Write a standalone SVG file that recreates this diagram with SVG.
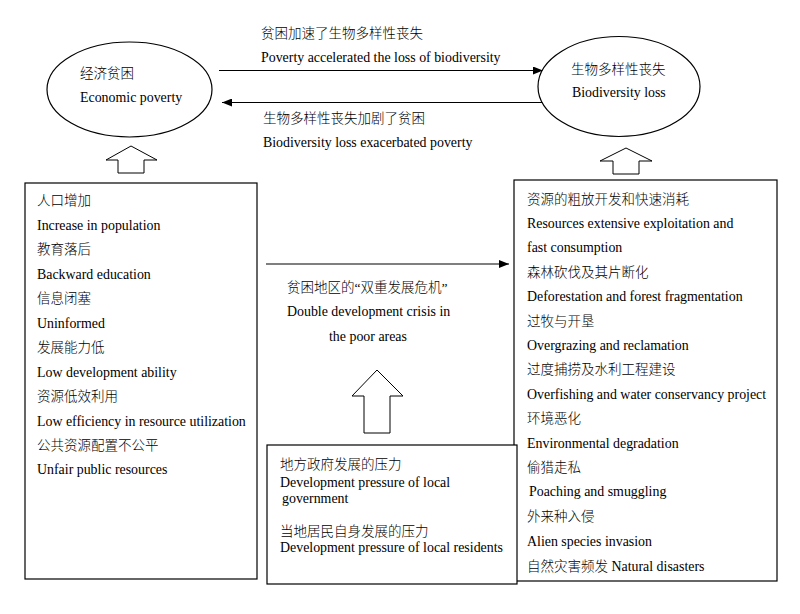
<svg xmlns="http://www.w3.org/2000/svg" width="800" height="614" viewBox="0 0 800 614">
<style>
text{font-family:"Liberation Serif","Noto Sans CJK SC",serif;font-size:13.9px;fill:#000}
.zh{font-size:13.5px;font-weight:300}
.shape{fill:#fff;stroke:#000;stroke-width:1.2}
.conn{stroke:#000;stroke-width:1.2;fill:none}
.hollow{fill:#fff;stroke:#000;stroke-width:1}
</style>
<defs>
<marker id="ah" markerWidth="10" markerHeight="8" refX="10" refY="4" orient="auto" markerUnits="userSpaceOnUse">
<path d="M0,0 L10,4 L0,8 Z" fill="#000"/>
</marker>
</defs>
<rect width="800" height="614" fill="#fff"/>
<g id="connectors">
<line class="conn" x1="219" y1="70.5" x2="543" y2="70.5" marker-end="url(#ah)"/>
<line class="conn" x1="545" y1="102.5" x2="222" y2="102.5" marker-end="url(#ah)"/>
<line class="conn" x1="266" y1="264" x2="509" y2="264" marker-end="url(#ah)"/>
<polygon class="hollow" points="131,146 157,160 144,160 144,173 118,173 118,160 106,160"/>
<polygon class="hollow" points="626,148 652,161 639,161 639,174 613,174 613,161 600,161"/>
<polygon class="hollow" points="377,370 403,396 390,396 390,433 364,433 364,396 352,396"/>
<text x="261" y="38" class="zh">贫困加速了生物多样性丧失</text>
<text x="261" y="62">Poverty accelerated the loss of biodiversity</text>
<text x="263" y="123" class="zh">生物多样性丧失加剧了贫困</text>
<text x="263" y="147">Biodiversity loss exacerbated poverty</text>
<text x="287" y="292" class="zh">贫困地区的“双重发展危机”</text>
<text x="287" y="316">Double development crisis in</text>
<text x="329" y="341">the poor areas</text>
</g>
<g id="economic-poverty">
<ellipse class="shape" cx="129.5" cy="89.5" rx="82.5" ry="47.5"/>
<text x="80" y="78" class="zh">经济贫困</text>
<text x="80" y="102">Economic poverty</text>
</g>
<g id="biodiversity-loss">
<ellipse class="shape" cx="619" cy="86.5" rx="81" ry="50"/>
<text x="571" y="74" class="zh">生物多样性丧失</text>
<text x="572" y="97">Biodiversity loss</text>
</g>
<g id="poverty-causes">
<rect class="shape" x="25" y="183" width="232" height="396"/>
<text x="37" y="205" class="zh">人口增加</text>
<text x="37" y="230">Increase in population</text>
<text x="37" y="254" class="zh">教育落后</text>
<text x="37" y="279">Backward education</text>
<text x="37" y="303" class="zh">信息闭塞</text>
<text x="37" y="328">Uninformed</text>
<text x="37" y="352" class="zh">发展能力低</text>
<text x="37" y="377">Low development ability</text>
<text x="37" y="401" class="zh">资源低效利用</text>
<text x="37" y="426">Low efficiency in resource utilization</text>
<text x="37" y="450" class="zh">公共资源配置不公平</text>
<text x="37" y="474">Unfair public resources</text>
</g>
<g id="biodiversity-causes">
<rect class="shape" x="514" y="180" width="263" height="401"/>
<text x="527" y="203.5" class="zh">资源的粗放开发和快速消耗</text>
<text x="527" y="228">Resources extensive exploitation and</text>
<text x="527" y="252">fast consumption</text>
<text x="527" y="276.5" class="zh">森林砍伐及其片断化</text>
<text x="527" y="301">Deforestation and  forest fragmentation</text>
<text x="527" y="325.5" class="zh">过牧与开垦</text>
<text x="527" y="350">Overgrazing and reclamation</text>
<text x="527" y="374" class="zh">过度捕捞及水利工程建设</text>
<text x="527" y="398.5">Overfishing and water conservancy project</text>
<text x="527" y="423" class="zh">环境恶化</text>
<text x="527" y="447.5">Environmental degradation</text>
<text x="527" y="471.5" class="zh">偷猎走私</text>
<text x="529" y="496">Poaching and smuggling</text>
<text x="527" y="520.5" class="zh">外来种入侵</text>
<text x="527" y="545.5">Alien species invasion</text>
<text x="527" y="570.5"><tspan class="zh">自然灾害频发</tspan> Natural disasters</text>
</g>
<g id="development-pressure">
<rect class="shape" x="267" y="445" width="250" height="139"/>
<text x="280" y="469" class="zh">地方政府发展的压力</text>
<text x="280" y="487">Development pressure of local</text>
<text x="282" y="503">government</text>
<text x="280" y="536" class="zh">当地居民自身发展的压力</text>
<text x="280" y="552">Development pressure of local residents</text>
</g>
</svg>
